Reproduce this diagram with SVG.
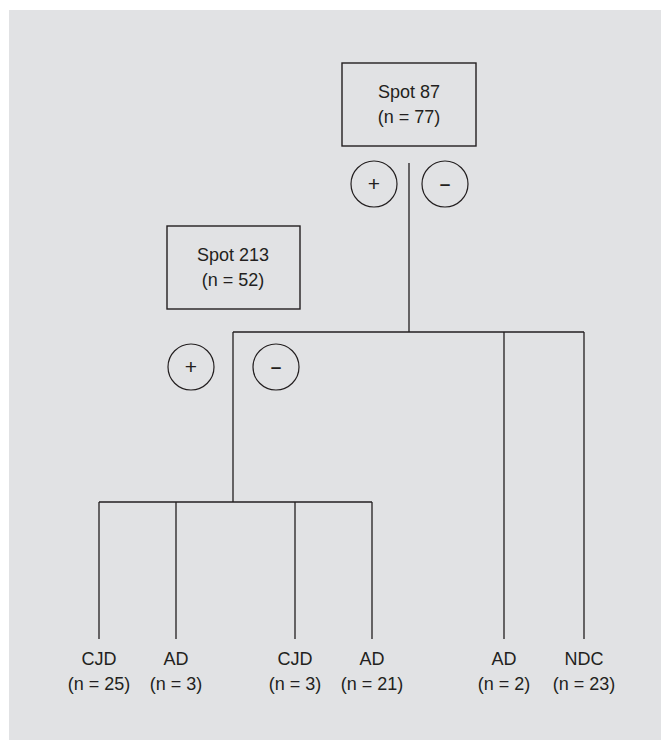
<svg xmlns="http://www.w3.org/2000/svg" width="661" height="740" viewBox="0 0 661 740">
<style>
text{font-family:"Liberation Sans",Arial,sans-serif;font-size:18px;fill:#231f20;text-anchor:middle}
.box{fill:none;stroke:#231f20;stroke-width:1.4}
.c{fill:none;stroke:#231f20;stroke-width:1.2}
.l{fill:none;stroke:#231f20;stroke-width:1.3}
.p{font-size:21px}
.m{font-weight:bold;font-size:19px}
</style>
<rect x="9" y="10" width="652" height="730" fill="#e1e2e4"/>
<g id="connectors">
<path class="l" d="M409 163V332M233 332H584M233 332V502M504 332V639M584 332V639M99 502H372M99 502V639M176 502V639M295 502V639M372 502V639"/>
</g>
<g id="spot87">
<rect class="box" x="342" y="63" width="134" height="83"/>
<text x="409" y="98">Spot 87</text>
<text x="409" y="123">(n = 77)</text>
</g>
<g id="spot87-plus"><circle class="c" cx="374" cy="184" r="23"/><text class="p" x="374" y="191">+</text></g>
<g id="spot87-minus"><circle class="c" cx="445" cy="184" r="23"/><text class="m" x="445" y="190">–</text></g>
<g id="spot213">
<rect class="box" x="167" y="226" width="133" height="83"/>
<text x="233" y="261">Spot 213</text>
<text x="233" y="286">(n = 52)</text>
</g>
<g id="spot213-plus"><circle class="c" cx="191" cy="367" r="23"/><text class="p" x="191" y="374">+</text></g>
<g id="spot213-minus"><circle class="c" cx="276" cy="367" r="23"/><text class="m" x="276" y="373">–</text></g>
<g id="leaf1"><text x="99" y="665">CJD</text><text x="99" y="690">(n = 25)</text></g>
<g id="leaf2"><text x="176" y="665">AD</text><text x="176" y="690">(n = 3)</text></g>
<g id="leaf3"><text x="295" y="665">CJD</text><text x="295" y="690">(n = 3)</text></g>
<g id="leaf4"><text x="372" y="665">AD</text><text x="372" y="690">(n = 21)</text></g>
<g id="leaf5"><text x="504" y="665">AD</text><text x="504" y="690">(n = 2)</text></g>
<g id="leaf6"><text x="584" y="665">NDC</text><text x="584" y="690">(n = 23)</text></g>
</svg>
